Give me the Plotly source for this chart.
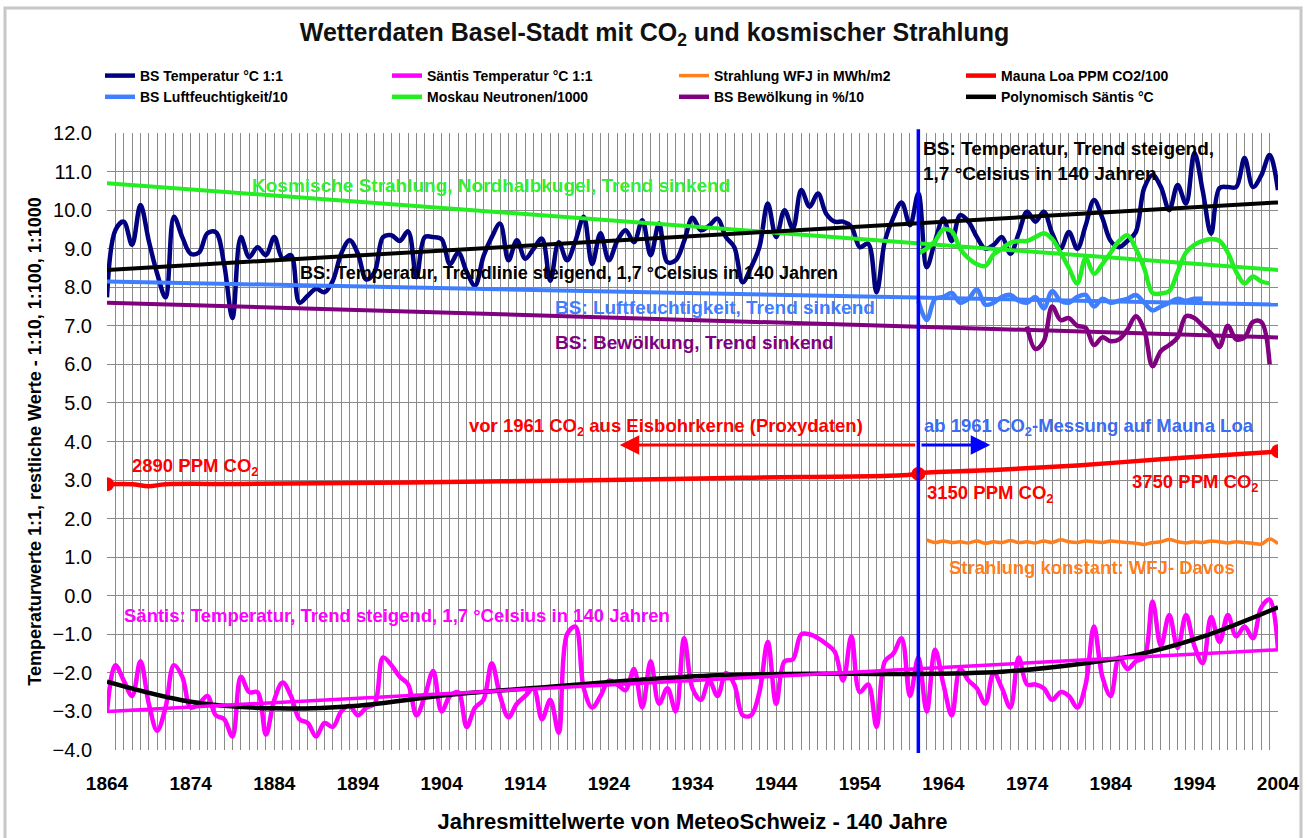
import plotly.graph_objects as go

# ---------------- data ----------------
years = list(range(1864, 2005))

bs_temp = [
    7.74, 9.48, 9.70, 9.10, 10.13, 9.20, 8.35, 7.74, 9.83, 9.30,   # 1864-1873
    8.87, 8.90, 9.40, 9.43, 8.60, 7.20, 9.30, 8.78, 9.04, 8.83,    # 1874-1883
    9.30, 8.74, 8.83, 7.60, 7.78, 7.96, 7.87, 8.17, 8.87, 9.22,    # 1884-1893
    8.87, 8.20, 8.40, 9.30, 9.35, 9.20, 9.45, 8.26, 9.30, 9.30,    # 1894-1903
    9.25, 8.60, 8.90, 8.40, 8.04, 8.80, 9.30, 9.65, 8.70, 9.22,    # 1904-1913
    8.74, 9.00, 9.26, 8.17, 9.17, 8.70, 9.20, 9.83, 8.60, 9.40,    # 1914-1923
    8.70, 9.20, 9.48, 9.17, 9.74, 8.83, 9.65, 8.65, 8.70, 9.20,    # 1924-1933
    9.80, 9.48, 9.60, 9.78, 9.30, 9.04, 8.13, 8.52, 9.04, 10.17,   # 1934-1943
    9.30, 10.00, 9.52, 10.52, 10.09, 10.43, 9.90, 9.70, 9.70, 9.57,  # 1944-1953
    9.04, 9.13, 7.87, 9.20, 9.80, 10.20, 9.61, 10.43, 8.52, 9.20,  # 1954-1963
    9.78, 9.20, 9.87, 9.70, 9.30, 9.00, 9.10, 9.30, 8.87, 9.40,    # 1964-1973
    9.96, 9.70, 9.96, 9.40, 9.00, 9.43, 9.00, 9.60, 10.26, 9.80,   # 1974-1983
    9.20, 9.04, 9.20, 9.43, 10.57, 10.91, 10.60, 10.00, 10.65, 10.17,  # 1984-1993
    11.48, 10.50, 9.39, 10.57, 10.60, 10.60, 11.35, 10.60, 10.90, 11.43,  # 1994-2003
    10.52,                                                          # 2004
]

saentis_temp = [
    -3.00, -1.80, -2.20, -2.60, -1.70, -2.80, -3.50, -2.90, -1.80, -2.10,  # 1864-1873
    -2.90, -2.80, -2.60, -3.10, -3.20, -3.65, -2.10, -2.50, -2.50, -3.60,  # 1874-1883
    -2.70, -2.25, -2.60, -3.20, -3.30, -3.65, -3.30, -3.40, -3.00, -2.85,  # 1884-1893
    -3.10, -2.90, -2.80, -1.60, -1.80, -2.10, -2.30, -3.10, -2.60, -1.95,  # 1894-1903
    -3.00, -2.60, -2.50, -3.40, -2.90, -2.70, -1.75, -2.60, -3.15, -2.80,  # 1904-1913
    -2.60, -2.40, -3.20, -2.70, -3.55, -1.00, -0.80, -2.40, -2.90, -2.60,  # 1914-1923
    -2.20, -2.30, -2.45, -1.90, -2.90, -1.70, -2.80, -2.40, -3.00, -1.10,  # 1924-1933
    -2.40, -2.70, -2.20, -2.60, -2.00, -2.30, -3.10, -3.10, -2.50, -1.20,  # 1934-1943
    -2.80, -1.70, -1.65, -1.00, -1.00, -1.10, -1.25, -1.45, -2.20, -1.05,  # 1944-1953
    -2.50, -2.30, -3.40, -1.70, -1.50, -1.10, -2.60, -1.60, -3.00, -1.40,  # 1954-1963
    -2.30, -3.10, -1.90, -2.20, -2.40, -2.80, -2.00, -2.40, -2.90, -1.60,  # 1964-1973
    -2.30, -2.30, -2.40, -2.70, -2.50, -2.60, -2.90, -2.30, -0.80, -2.10,  # 1974-1983
    -2.60, -1.60, -1.90, -1.70, -1.60, -0.15, -1.30, -0.50, -1.35, -0.50,  # 1984-1993
    -1.30, -1.75, -0.55, -1.20, -0.50, -1.05, -0.80, -1.10, -0.30, -0.10,  # 1994-2003
    -1.40,                                                                  # 2004
]

poly_years = [1864, 1874, 1884, 1894, 1905, 1917, 1927, 1937, 1949, 1959, 1971, 1981, 1987, 1995, 2004]
poly_saentis = [-2.23, -2.75, -2.92, -2.85, -2.57, -2.36, -2.19, -2.06, -2.02, -2.03, -1.97, -1.75, -1.54, -1.06, -0.30]

trend_years = [1864, 2004]
trend_saentis = [-3.00, -1.40]
trend_bs_temp = [8.45, 10.20]
trend_neutron = [10.70, 8.45]
trend_humidity = [8.15, 7.55]
trend_cloud = [7.60, 6.70]

neutron_years = list(range(1961, 2004))
neutron = [
    8.88, 9.00, 9.20, 9.50, 9.45, 9.00, 8.75, 8.60, 8.55, 8.85,   # 1961-1970
    9.00, 9.15, 9.20, 9.20, 9.30, 9.40, 9.25, 8.90, 8.50, 8.10,   # 1971-1980
    8.75, 8.35, 8.60, 8.90, 9.20, 9.35, 9.00, 8.50, 7.85, 7.84,   # 1981-1990
    7.90, 8.40, 8.90, 9.10, 9.20, 9.25, 9.20, 8.90, 8.40, 8.10,   # 1991-2000
    8.28, 8.15, 8.10,                                             # 2001-2003
]

humidity_years = list(range(1961, 1996))
humidity = [
    7.65, 7.15, 7.70, 7.75, 7.85, 7.60, 7.70, 7.95, 7.55, 7.60,   # 1961-1970
    7.75, 7.80, 7.65, 7.60, 7.75, 7.45, 7.90, 7.65, 7.60, 7.75,   # 1971-1980
    7.80, 7.50, 7.70, 7.60, 7.65, 7.70, 7.80, 7.60, 7.40, 7.50,   # 1981-1990
    7.60, 7.70, 7.65, 7.70, 7.70,                                 # 1991-1995
]

cloud_years = list(range(1974, 2004))
cloud = [
    6.98, 6.40, 6.60, 7.50, 7.15, 7.20, 7.00, 6.95, 6.50, 6.70,   # 1974-1983
    6.60, 6.65, 6.90, 7.25, 6.90, 5.95, 6.35, 6.50, 6.70, 7.25,   # 1984-1993
    7.20, 7.00, 6.80, 6.45, 7.00, 6.65, 6.70, 7.10, 7.10, 6.00,   # 1994-2003
]

radiation_years = list(range(1962, 2005))
radiation = [
    1.45, 1.38, 1.42, 1.38, 1.40, 1.37, 1.42, 1.36, 1.40, 1.38,   # 1962-1971
    1.43, 1.38, 1.40, 1.37, 1.42, 1.38, 1.45, 1.40, 1.38, 1.42,   # 1972-1981
    1.40, 1.38, 1.42, 1.40, 1.38, 1.36, 1.33, 1.38, 1.40, 1.46,   # 1982-1991
    1.40, 1.37, 1.40, 1.38, 1.42, 1.40, 1.37, 1.40, 1.38, 1.36,   # 1992-2001
    1.34, 1.47, 1.35,                                             # 2002-2004
]

co2_years = [1864, 1867, 1869, 1871, 1880, 1900, 1920, 1940, 1960, 1961, 1970, 1980, 1990, 2000, 2004]
co2 = [2.89, 2.89, 2.84, 2.89, 2.90, 2.94, 2.99, 3.06, 3.14, 3.18, 3.26, 3.38, 3.54, 3.68, 3.74]
co2_marker_years = [1864, 1961, 2004]
co2_marker_values = [2.89, 3.16, 3.75]

split_year = 1961

# ---------------- styling ----------------
FONT = "Arial, Liberation Sans, sans-serif"
NAVY = "#000080"
MAGENTA = "#ff00ff"
ORANGE = "#ff7f1e"
RED = "#ff0000"
LBLUE = "#3f7fff"
GREEN = "#22ee22"
PURPLE = "#800080"
BLACK = "#000000"
VBLUE = "#0000ff"
GRID = "#8a8a8a"

assert len(bs_temp) == len(years)
assert len(saentis_temp) == len(years)
assert len(neutron) == len(neutron_years)
assert len(humidity) == len(humidity_years)
assert len(cloud) == len(cloud_years)
assert len(radiation) == len(radiation_years)

fig = go.Figure()

def spline(x, y, color, width, name, legend=True, shape="spline"):
    fig.add_trace(go.Scatter(
        x=x, y=y, mode="lines", name=name, showlegend=legend,
        line=dict(color=color, width=width, shape=shape, smoothing=1.0),
    ))

# legend traces in row-major order
spline(years, bs_temp, NAVY, 4.5, "BS Temperatur °C 1:1")
spline(years, saentis_temp, MAGENTA, 4.5, "Säntis Temperatur °C 1:1")
spline(radiation_years, radiation, ORANGE, 3.5, "Strahlung WFJ in MWh/m2")
spline(co2_years, co2, RED, 4.5, "Mauna Loa PPM CO2/100")
spline(humidity_years, humidity, LBLUE, 4.5, "BS Luftfeuchtigkeit/10")
spline(neutron_years, neutron, GREEN, 4.5, "Moskau Neutronen/1000")
spline(cloud_years, cloud, PURPLE, 4.5, "BS Bewölkung in %/10")
spline(poly_years, poly_saentis, BLACK, 4.5, "Polynomisch Säntis °C")

# trend lines (not in legend)
spline(trend_years, trend_neutron, GREEN, 4, "Trend Neutronen", False, "linear")
spline(trend_years, trend_humidity, LBLUE, 4, "Trend Luftfeuchtigkeit", False, "linear")
spline(trend_years, trend_cloud, PURPLE, 4, "Trend Bewölkung", False, "linear")
spline(trend_years, trend_saentis, MAGENTA, 3.5, "Trend Säntis", False, "linear")
spline(trend_years, trend_bs_temp, BLACK, 4, "Trend BS Temperatur", False, "linear")

fig.add_trace(go.Scatter(
    x=co2_marker_years, y=co2_marker_values, mode="markers", showlegend=False,
    marker=dict(color=RED, size=14, line=dict(width=0)), name="CO2 Punkte",
))

# vertical marker at 1961
fig.add_shape(type="line", x0=split_year, x1=split_year, xref="x", yref="paper",
              y0=-0.005, y1=1.006, line=dict(color=VBLUE, width=3.5))

# outer frame of the chart
fig.add_shape(type="rect", xref="paper", yref="paper",
              x0=(5 - 107) / 1171, x1=(1301 - 107) / 1171,
              y0=(750 - 845) / 617, y1=(750 - 8) / 617,
              line=dict(color="#c8c8c8", width=3), layer="below")

def note(x, y, text, color, size=19, xanchor="left", align="left"):
    fig.add_annotation(x=x, y=y, xref="x", yref="y", text=f"<b>{text}</b>",
                       showarrow=False, xanchor=xanchor, yanchor="middle", align=align,
                       font=dict(family=FONT, size=size, color=color))

note(1881.1, 10.65, "Kosmische Strahlung, Nordhalbkugel, Trend sinkend", "#33ee33", 19)
note(1886.8, 8.37, "BS: Temperatur, Trendlinie steigend, 1,7 °Celsius in 140 Jahren", BLACK, 18)
note(1917.3, 7.47, "BS: Luftfeuchtigkeit, Trend sinkend", LBLUE, 19)
note(1917.3, 6.56, "BS: Bewölkung, Trend sinkend", PURPLE, 19)
note(1961.3, 11.27, "BS: Temperatur, Trend steigend,<br>1,7 °Celsius in 140 Jahren", BLACK, 19)
note(1907.0, 4.38, "vor 1961 CO<sub>2</sub> aus Eisbohrkerne (Proxydaten)", RED, 18.5)
note(1961.4, 4.38, "ab 1961 CO<sub>2</sub>-Messung auf Mauna Loa", "#3a6cf4", 18.5)
note(1866.7, 3.34, "2890 PPM CO<sub>2</sub>", RED, 18.5)
note(1961.8, 2.64, "3150 PPM CO<sub>2</sub>", RED, 18.5)
note(1986.3, 2.93, "3750 PPM CO<sub>2</sub>", RED, 18.5)
note(1964.4, 0.72, "Strahlung konstant: WFJ- Davos", ORANGE, 18.5)
note(1865.8, -0.50, "Säntis: Temperatur, Trend steigend, 1,7 °Celsius in 140 Jahren", MAGENTA, 18.5)

# arrows
fig.add_annotation(x=1925.3, y=3.91, ax=1960.8, ay=3.91, xref="x", yref="y", axref="x", ayref="y",
                   text="", showarrow=True, arrowhead=2, arrowsize=1.3, arrowwidth=3, arrowcolor=RED)
fig.add_annotation(x=1969.6, y=3.91, ax=1961.2, ay=3.91, xref="x", yref="y", axref="x", ayref="y",
                   text="", showarrow=True, arrowhead=2, arrowsize=1.3, arrowwidth=3, arrowcolor=VBLUE)

fig.update_layout(
    width=1309, height=838,
    margin=dict(l=107, r=31, t=133, b=88, autoexpand=False),
    paper_bgcolor="white", plot_bgcolor="white",
    font=dict(family=FONT, color=BLACK),
    title=dict(text="<b>Wetterdaten Basel-Stadt mit CO<sub>2</sub> und kosmischer Strahlung</b>",
               x=0.5, xanchor="center", y=1 - 32 / 838, yanchor="middle",
               font=dict(family=FONT, size=25, color="#111111")),
    legend=dict(orientation="h", x=-0.006, xanchor="left", y=(750 - 60) / 617, yanchor="top",
                entrywidth=242, entrywidthmode="pixels", traceorder="normal",
                font=dict(family=FONT, size=14, color=BLACK, weight="bold"),
                bgcolor="rgba(0,0,0,0)", itemwidth=30),
    showlegend=True,
)

fig.update_xaxes(
    range=[1864, 2004], tick0=1864, dtick=10, tickmode="linear",
    showgrid=True, gridcolor=GRID, gridwidth=1,
    minor=dict(dtick=1, tick0=1864, showgrid=True, gridcolor=GRID, gridwidth=1),
    zeroline=False, showline=False, ticks="", ticklabelstandoff=20,
    tickfont=dict(family=FONT, size=19, color=BLACK, weight="bold"),
    title=dict(text="<b>Jahresmittelwerte von MeteoSchweiz - 140 Jahre</b>", standoff=20,
               font=dict(family=FONT, size=22, color=BLACK)),
)
fig.update_yaxes(
    range=[-4, 12], dtick=1, tick0=0, tickmode="linear", tickformat=".1f",
    showgrid=True, gridcolor=GRID, gridwidth=1, zeroline=False, showline=False,
    ticks="", ticklabelstandoff=14,
    tickfont=dict(family=FONT, size=20, color=BLACK),
    title=dict(text="<b>Temperaturwerte 1:1, restliche Werte - 1:10, 1:100, 1:1000</b>", standoff=6,
               font=dict(family=FONT, size=18, color=BLACK)),
)

fig.write_html("out.html", config={"displayModeBar": False},
               post_script="document.body.style.margin='0';document.body.style.overflow='hidden';")
